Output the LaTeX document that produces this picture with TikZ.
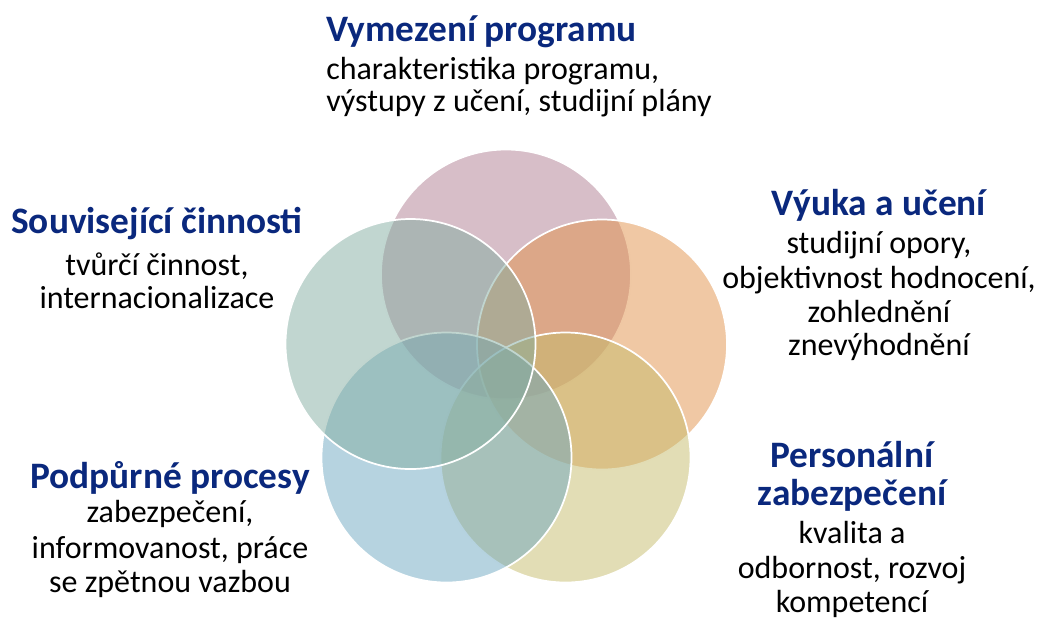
\documentclass[tikz,border=0pt]{standalone}
\usepackage{fontspec}
\setmainfont{Carlito}
\definecolor{cpink}{RGB}{175,125,145}
\definecolor{corange}{RGB}{225,145,73}
\definecolor{cyellow}{RGB}{197,187,107}
\definecolor{cblue}{RGB}{109,167,193}
\definecolor{cgrey}{RGB}{131,173,161}
\definecolor{ttlblue}{RGB}{10,40,125}
\tikzset{
  venn/.style={draw=white, line width=1.3pt, fill opacity=0.5},
  ttl/.style={font=\fontsize{28}{32}\selectfont\bfseries, text=ttlblue, inner sep=0pt},
  bdy/.style={font=\fontsize{24}{28}\selectfont, text=black, inner sep=0pt}
}
\begin{document}
\begin{tikzpicture}[x=0.75pt,y=-0.75pt]
\useasboundingbox (0,0) rectangle (1037,619);
% circles
\path[venn, fill=cpink]   (506,274.5) circle[radius=93.75pt];
\path[venn, fill=corange] (602,344.5) circle[radius=93.75pt];
\path[venn, fill=cyellow] (565.5,457.5) circle[radius=93.75pt];
\path[venn, fill=cblue]   (446.5,457.5) circle[radius=93.75pt];
\path[venn, fill=cgrey]   (410.5,344) circle[radius=93.75pt];
% top block
\node[ttl, anchor=base west] (t1) at (326,41) {Vymezení programu};
\node[bdy, anchor=base west] (t2) at (326,79) {charakteristika programu,};
\node[bdy, anchor=base west] (t3) at (326,111) {výstupy z učení, studijní plány};
% left block
\node[ttl, anchor=base] (l1) at (157,233) {Související činnosti};
\node[bdy, anchor=base] (l2) at (157,275) {tvůrčí činnost,};
\node[bdy, anchor=base] (l3) at (157,308) {internacionalizace};
% bottom-left block
\node[ttl, anchor=base] (b1) at (170,488) {Podpůrné procesy};
\node[bdy, anchor=base] (b2) at (170,522) {zabezpečení,};
\node[bdy, anchor=base] (b3) at (170,558) {informovanost, práce};
\node[bdy, anchor=base] (b4) at (170,592) {se zpětnou vazbou};
% right-top block
\node[ttl, anchor=base] (r1) at (879,215) {Výuka a učení};
\node[bdy, anchor=base] (r2) at (879,253) {studijní opory,};
\node[bdy, anchor=base] (r3) at (879,288) {objektivnost hodnocení,};
\node[bdy, anchor=base] (r4) at (879,322) {zohlednění};
\node[bdy, anchor=base] (r5) at (879,355) {znevýhodnění};
% right-bottom block
\node[ttl, anchor=base] (p1) at (852,467) {Personální};
\node[ttl, anchor=base] (p2) at (852,505) {zabezpečení};
\node[bdy, anchor=base] (p3) at (852,543) {kvalita a};
\node[bdy, anchor=base] (p4) at (852,578) {odbornost, rozvoj};
\node[bdy, anchor=base] (p5) at (852,612) {kompetencí};
\end{tikzpicture}
\end{document}
